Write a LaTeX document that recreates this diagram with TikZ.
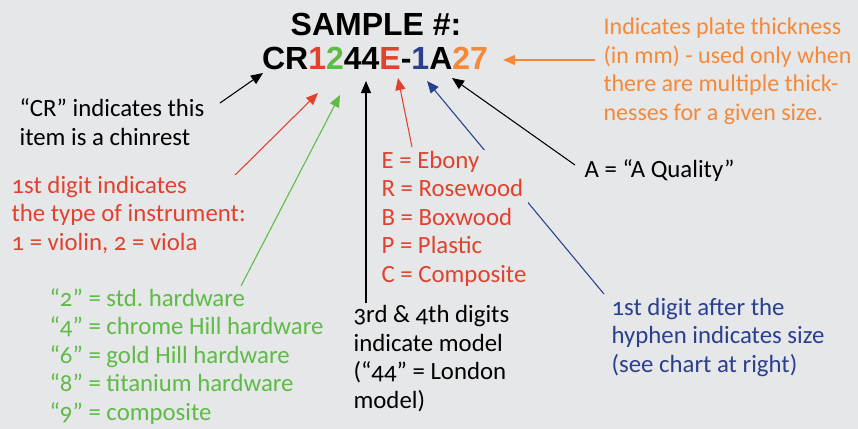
\documentclass[tikz,border=0pt]{standalone}
\usepackage{fontspec}
\setmainfont[Numbers=OldStyle]{Carlito}
\newfontfamily\headfont{Liberation Sans}
\usetikzlibrary{arrows.meta}
\frenchspacing
\definecolor{bg}{HTML}{E6E7E8}
\definecolor{cred}{HTML}{E2412E}
\definecolor{cgreen}{HTML}{5DBB46}
\definecolor{cblue}{HTML}{2B3F8F}
\definecolor{corange}{HTML}{F5893A}
\tikzset{
  lbl/.style={anchor=base west, align=left, inner sep=1pt, fill=bg,
    font=\fontsize{18.6}{21.3}\selectfont},
  arr/.style={line width=0.8pt, -{Triangle[length=9pt,width=7.5pt]}},
  head/.style={font=\headfont\bfseries\fontsize{24}{28}\selectfont, inner sep=0pt},
}
\begin{document}
\begin{tikzpicture}[x=0.75pt,y=-0.75pt]
\fill[bg] (0,0) rectangle (858,429);
\useasboundingbox (0,0) rectangle (858,429);
% title
\node[head] (title) at (376,24) {SAMPLE \#:};
\node[head] (code) at (375,58)
 {CR\textcolor{cred}{1}\textcolor{cgreen}{2}44\textcolor{cred}{E}-\textcolor{cblue}{1}A\textcolor{corange}{27}};
% coordinates
\coordinate (hCR) at (263,73);
\coordinate (tCR) at (220,103);
\coordinate (h1) at (318,93);
\coordinate (t1) at (223,187);
\coordinate (h2) at (340,95);
\coordinate (t2) at (241,286);
\coordinate (h44) at (366,81);
\coordinate (t44) at (366,303);
\coordinate (hE) at (398,78);
\coordinate (tE) at (412,147);
\coordinate (hB) at (427,81);
\coordinate (tB) at (604,294);
\coordinate (hA) at (452,78);
\coordinate (tA) at (575,165);
\coordinate (hO) at (503,60);
\coordinate (tO) at (595,60);
% connectors
\draw[arr] (tCR) -- (hCR);
\draw[arr, cred] (t1) -- (h1);
\draw[arr, cgreen] (t2) -- (h2);
\draw[arr] (t44) -- (h44);
\draw[arr, cred] (tE) -- (hE);
\draw[arr, cblue] (tB) -- (hB);
\draw[arr] (tA) -- (hA);
\draw[arr, corange] (tO) -- (hO);
% labels (base = last line baseline)
\node[lbl] (crl) at (18,145) {“CR” indicates this\\item is a chinrest};
\node[lbl, text=cred] (first) at (10,250) {1st digit indicates\\the type of instrument:\\1 = violin, 2 = viola};
\node[lbl, text=cgreen] (hw) at (48,420) {“2” = std. hardware\\“4” = chrome Hill hardware\\“6” = gold Hill hardware\\“8” = titanium hardware\\“9” = composite};
\node[lbl] (model) at (352,408) {3rd \& 4th digits\\indicate model\\(“44” = London\\model)};
\node[lbl, text=cred] (wood) at (380,282) {E = Ebony\\R = Rosewood\\B = Boxwood\\P = Plastic\\C = Composite};
\node[lbl] (qual) at (583,177) {A = “A Quality”};
\node[lbl, text=corange, font=\fontsize{18}{21.3}\selectfont] (thick) at (602,120) {Indicates plate thickness\\(in mm) - used only when\\there are multiple thick-\\nesses for a given size.};
\node[lbl, text=cblue] (size) at (610,372) {1st digit after the\\hyphen indicates size\\(see chart at right)};
\end{tikzpicture}
\end{document}
